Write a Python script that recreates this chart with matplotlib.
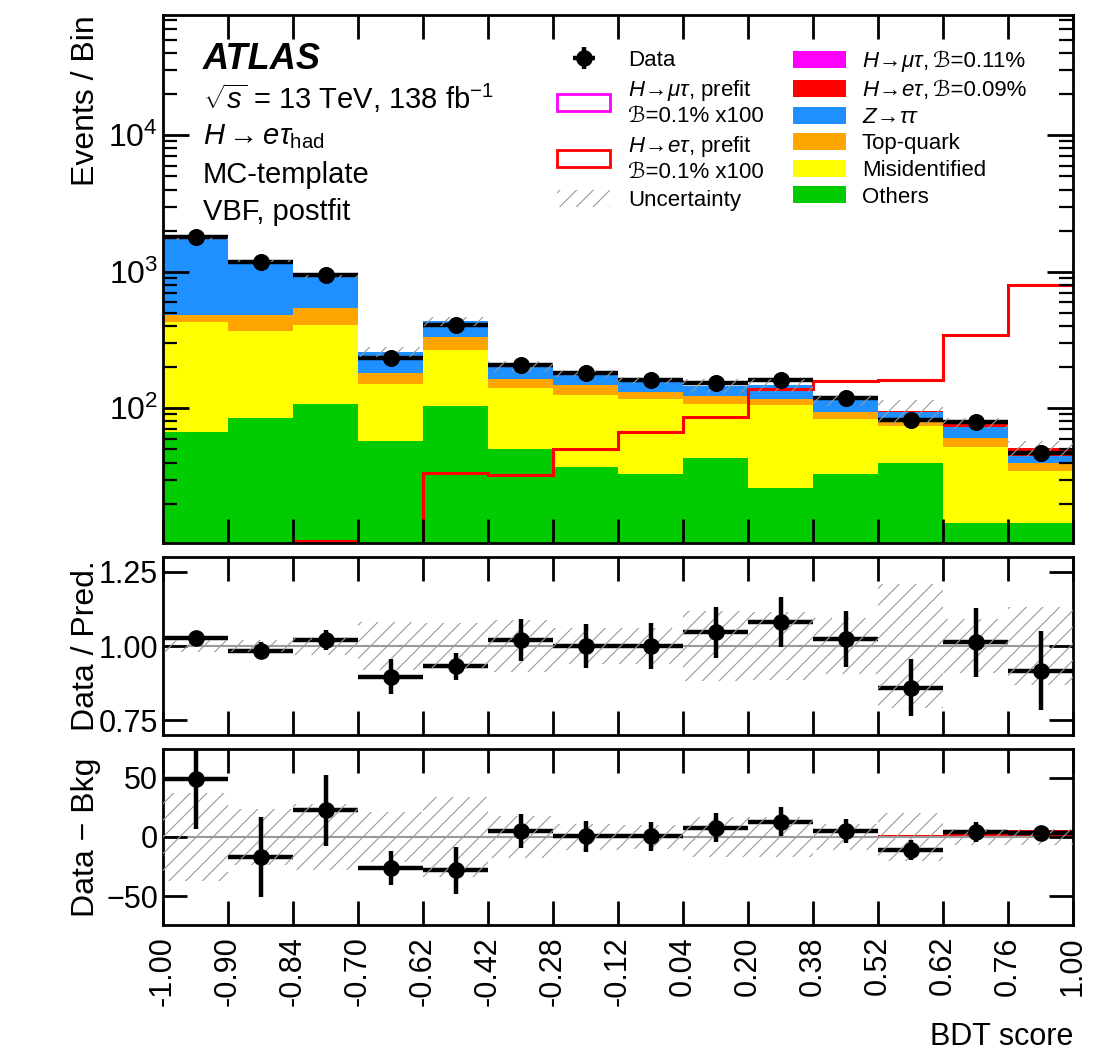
import numpy as np
import matplotlib
matplotlib.use("Agg")
import matplotlib.pyplot as plt
from matplotlib.patches import Patch
from matplotlib.ticker import FixedLocator, LogLocator, NullFormatter, FixedFormatter

plt.rcParams['font.family'] = ['Liberation Sans', 'DejaVu Sans', 'STIXGeneral']
plt.rcParams['mathtext.fontset'] = 'custom'
plt.rcParams['mathtext.rm'] = 'Liberation Sans'
plt.rcParams['mathtext.it'] = 'Liberation Sans:italic'
plt.rcParams['mathtext.bf'] = 'Liberation Sans:bold'
plt.rcParams['axes.unicode_minus'] = True
plt.rcParams['hatch.linewidth'] = 0.8

# bin edge labels (bins are drawn with equal width)
edge_labels = ['-1.00', '-0.90', '-0.84', '-0.70', '-0.62', '-0.42', '-0.28', '-0.12',
               '0.04', '0.20', '0.38', '0.52', '0.62', '0.76', '1.00']

# data counts per bin
data = [1790, 1175, 942, 232, 405, 207, 180, 160, 152, 160, 118, 82, 79, 47]

# postfit background components (events per bin)
others = [67, 85, 107, 58, 104, 50, 37, 33, 43, 26, 33, 40, 14.5, 14.5]
misid = [361, 283, 298, 92, 165, 91, 88, 83, 65, 79, 51, 34, 37.5, 20]
topq = [52, 112, 142, 30, 64, 22, 22, 16, 15, 11, 10, 5, 9, 5.5]
ztt = [1263, 714, 375, 79, 102, 40, 33, 28, 22, 31, 20, 14.5, 11.5, 5]
# postfit signals
sig_et = [0, 0, 0, 0, 0, 0, 0, 0.2, 0.5, 0.8, 1.0, 1.5, 5.5, 6.0]
sig_mt = [0, 0, 0, 0, 0, 0, 0, 0, 0, 0, 0, 0, 0, 0]

# prefit signals x100
prefit_et = [3, 6, 10.7, 8, 33.6, 32.7, 50, 67, 86, 139, 158, 160, 343, 805]
prefit_mt = [0.5, 0.6, 0.8, 0.7, 1.0, 1.0, 1.2, 1.5, 2.0, 2.5, 3.0, 3.0, 4.0, 5.0]

# relative uncertainty of the prediction
unc_rel = [0.021, 0.02, 0.03, 0.08, 0.077, 0.087, 0.06, 0.062, 0.117, 0.115, 0.096, 0.21, 0.09, 0.133]

# ratio panel
ratio = [1.027, 0.984, 1.021, 0.897, 0.931, 1.021, 1.0, 1.0, 1.046, 1.080, 1.024, 0.86, 1.012, 0.916]
ratio_err = [0.024, 0.029, 0.033, 0.058, 0.045, 0.07, 0.074, 0.078, 0.085, 0.085, 0.094, 0.095, 0.115, 0.133]

# data - bkg panel
diff = [49, -16.8, 22.4, -26, -28, 5, 0.6, 0.5, 7.8, 13, 5, -11.2, 4.2, 3.4]
diff_err = [42, 33.6, 30, 14.5, 19.6, 14, 13, 12, 12, 12.5, 10, 8.4, 8.5, 6]

nb = len(data)
edges = np.arange(nb + 1)
xc = edges[:-1] + 0.5

total = (np.array(others) + np.array(misid) + np.array(topq) + np.array(ztt)
         + np.array(sig_et) + np.array(sig_mt))
unc_abs = np.array(unc_rel) * total

HATCH_COL = '#9a9a9a'

fig = plt.figure(figsize=(11.03, 10.57), dpi=100)
L, W = 163 / 1103, 910 / 1103
ax = fig.add_axes([L, 1 - 543 / 1057, W, 528 / 1057])
axr = fig.add_axes([L, 1 - 735 / 1057, W, 178 / 1057])
axd = fig.add_axes([L, 1 - 925 / 1057, W, 176 / 1057])

# ---- main panel: stacked histogram
stack = [(others, '#00cc00'), (misid, '#ffff00'), (topq, '#ffa500'),
         (ztt, '#1e90ff'), (sig_et, '#ff0000'), (sig_mt, '#ff00ff')]
cum = np.zeros(nb)
for vals, col in stack:
    top = cum + np.array(vals, dtype=float)
    bottom = np.where(cum > 0, cum, 1.0)
    ax.stairs(np.maximum(top, 1.0), edges, baseline=bottom, fill=True, color=col, lw=0, zorder=1)
    cum = top

ax.stairs(prefit_mt, edges, color='#ff00ff', lw=2.2, zorder=2, baseline=None)
ax.stairs(prefit_et, edges, color='#ff0000', lw=2.2, zorder=2, baseline=None)

data_h = ax.errorbar(xc, data, xerr=0.5, yerr=np.array(ratio_err) * total, fmt='o',
                     color='k', ms=11, elinewidth=3.2, capsize=0, zorder=3)
ax.bar(xc, 2 * unc_abs, bottom=total - unc_abs, width=1.0, facecolor='none',
       edgecolor=HATCH_COL, hatch='//', lw=0, zorder=4)
ax.plot(xc, data, 'o', color='k', ms=11, zorder=5)

ax.set_yscale('log')
ax.set_ylim(10.3, 7.6e4)
ax.set_xlim(0, nb)
ax.yaxis.set_minor_locator(LogLocator(base=10, subs=np.arange(2, 10)))
ax.yaxis.set_minor_formatter(NullFormatter())

# ---- ratio panel
axr.axhline(1.0, color='#999999', lw=1.5, zorder=1)
axr.errorbar(xc, ratio, xerr=0.5, fmt='none', ecolor='k', elinewidth=3.2, zorder=3)
axr.bar(xc, 2 * np.array(unc_rel), bottom=1 - np.array(unc_rel), width=1.0,
        facecolor='none', edgecolor=HATCH_COL, hatch='//', lw=0, zorder=4)
axr.errorbar(xc, ratio, yerr=ratio_err, fmt='o', color='k', ms=11,
             elinewidth=3.2, capsize=0, zorder=5)
axr.set_ylim(0.7, 1.3)
axr.set_xlim(0, nb)
axr.yaxis.set_major_locator(FixedLocator([0.75, 1.0, 1.25]))
axr.yaxis.set_major_formatter(FixedFormatter(['0.75', '1.00', '1.25']))

# ---- data - bkg panel
axd.stairs(sig_et, edges, baseline=0, fill=True, color='#ff0000', lw=0, zorder=1)
axd.axhline(0.0, color='#999999', lw=1.5, zorder=1)
axd.errorbar(xc, diff, xerr=0.5, fmt='none', ecolor='k', elinewidth=3.2, zorder=3)
axd.bar(xc, 2 * unc_abs, bottom=-unc_abs, width=1.0, facecolor='none',
        edgecolor=HATCH_COL, hatch='//', lw=0, zorder=4)
axd.errorbar(xc, diff, yerr=diff_err, fmt='o', color='k', ms=11,
             elinewidth=3.2, capsize=0, zorder=5)
axd.set_ylim(-74, 74)
axd.set_xlim(0, nb)
axd.yaxis.set_major_locator(FixedLocator([-50, 0, 50]))

# ---- axes styling
for a in (ax, axr, axd):
    a.xaxis.set_major_locator(FixedLocator(edges))
    a.tick_params(which='major', direction='in', top=True, right=True,
                  length=17, width=2, labelsize=22)
    a.tick_params(which='minor', direction='in', left=True, right=True,
                  length=10, width=1.6)
    for s in a.spines.values():
        s.set_linewidth(2)
    a.set_axisbelow(False)
ax.tick_params(axis='y', which='major', length=19, labelsize=23)
ax.tick_params(axis='x', labelbottom=False)
axr.tick_params(axis='x', labelbottom=False)
axd.set_xticklabels(edge_labels, rotation=90)
axd.tick_params(axis='x', pad=8)

ax.set_ylabel('Events / Bin', fontsize=23, loc='top')
ax.yaxis.set_label_coords(-0.068, 1.0)
axr.set_ylabel('Data / Pred.', fontsize=23)
axr.yaxis.set_label_coords(-0.068, 0.5)
axd.set_ylabel('Data − Bkg', fontsize=23)
axd.yaxis.set_label_coords(-0.068, 0.5)
fig.text(L + W, 1 - 1037 / 1057, 'BDT score', ha='right', va='center', fontsize=22)

# ---- labels
tx = 0.044
ax.text(tx, 0.915, 'ATLAS', transform=ax.transAxes, fontsize=26, fontweight='bold',
        fontstyle='italic', va='center')
ax.text(tx, 0.843, r'$\sqrt{s}$ = 13 TeV, 138 fb$^{-1}$', transform=ax.transAxes,
        fontsize=21, va='center')
ax.text(tx, 0.769, r'$H\rightarrow e\tau_{\mathrm{had}}$', transform=ax.transAxes,
        fontsize=21, va='center')
ax.text(tx, 0.697, 'MC-template', transform=ax.transAxes, fontsize=21, va='center')
ax.text(tx, 0.627, 'VBF, postfit', transform=ax.transAxes, fontsize=21, va='center')

# ---- legends
h_left = [
    data_h,
    Patch(facecolor='none', edgecolor='#ff00ff', lw=2),
    Patch(facecolor='none', edgecolor='#ff0000', lw=2),
    Patch(facecolor='none', edgecolor=HATCH_COL, hatch='//', lw=0),
]
l_left = [
    'Data',
    r'$H\!\rightarrow\!\mu\tau$, prefit' + '\nℬ=0.1% x100',
    r'$H\!\rightarrow\!e\tau$, prefit' + '\nℬ=0.1% x100',
    'Uncertainty',
]
leg1 = fig.legend(h_left, l_left, loc='upper left', bbox_to_anchor=(557 / 1103, 1 - 50 / 1057),
                  frameon=False, fontsize=16, labelspacing=0.3, handlelength=2.4,
                  handleheight=0.8, handletextpad=0.8, borderpad=0, borderaxespad=0)
h_right = [Patch(facecolor=c, lw=0) for c in
           ['#ff00ff', '#ff0000', '#1e90ff', '#ffa500', '#ffff00', '#00cc00']]
# branching ratio parts are added as plain text after the math part (glyph fallback)
l_right = [r'$H\!\rightarrow\!\mu\tau$,', r'$H\!\rightarrow\!e\tau$,',
           r'$Z\!\rightarrow\!\tau\tau$', 'Top-quark', 'Misidentified', 'Others']
br_right = ['ℬ=0.11%', 'ℬ=0.09%']
leg2 = fig.legend(h_right, l_right, loc='upper left', bbox_to_anchor=(793 / 1103, 1 - 50 / 1057),
                  frameon=False, fontsize=16, labelspacing=0.24, handlelength=2.4,
                  handleheight=0.8, handletextpad=0.7, borderpad=0, borderaxespad=0)

fig.canvas.draw()
r = fig.canvas.get_renderer()
for t, s in zip(leg2.get_texts()[:2], br_right):
    ext = t.get_window_extent(r)
    bx, by = t.get_transform().transform(t.get_position())
    fig.text(ext.x1 + 5, by, s, fontsize=16, ha='left', va='baseline',
             transform=None)

fig.savefig('out.png', dpi=100)
